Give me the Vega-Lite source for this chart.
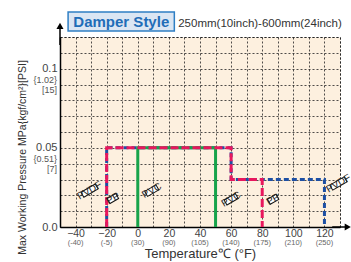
{
  "$schema": "https://vega.github.io/schema/vega-lite/v6.json",
  "width": 280,
  "height": 190,
  "autosize": "none",
  "padding": {"left": 60, "top": 37, "right": 11, "bottom": 35},
  "background": "white",
  "config": {
    "view": {"fill": "#fdf0df", "stroke": "#333", "strokeDash": [2, 2], "strokeWidth": 1},
    "font": "Liberation Sans",
    "axis": {"grid": true, "gridColor": "#222", "gridDash": [2, 2], "gridWidth": 0.8, "ticks": false, "domainColor": "#000", "domainWidth": 1.5, "labelColor": "#444", "labelFontSize": 11, "titleFontWeight": "normal", "titleColor": "#333", "tickCount": 100, "labelOverlap": false}
  },
  "datasets": {
    "lines": [
      {"series": "PVDF", "i": 1, "t": -20, "p": 0},
      {"series": "PVDF", "i": 2, "t": -20, "p": 0.05},
      {"series": "PVDF", "i": 3, "t": 60, "p": 0.05},
      {"series": "PVDF", "i": 4, "t": 60, "p": 0.03},
      {"series": "PVDF", "i": 5, "t": 120, "p": 0.03},
      {"series": "PVDF", "i": 6, "t": 120, "p": 0},
      {"series": "PVC", "i": 1, "t": 0, "p": 0},
      {"series": "PVC", "i": 2, "t": 0, "p": 0.05},
      {"series": "PVC", "i": 3, "t": 50, "p": 0.05},
      {"series": "PVC", "i": 4, "t": 50, "p": 0},
      {"series": "PP", "i": 1, "t": -20, "p": 0},
      {"series": "PP", "i": 2, "t": -20, "p": 0.05},
      {"series": "PP", "i": 3, "t": 60, "p": 0.05},
      {"series": "PP", "i": 4, "t": 60, "p": 0.03},
      {"series": "PP", "i": 5, "t": 80, "p": 0.03},
      {"series": "PP", "i": 6, "t": 80, "p": 0}
    ],
    "tags": [
      {"label": "PVDF", "t": -31, "p": 0.023},
      {"label": "PP", "t": -16, "p": 0.018},
      {"label": "PVC", "t": 9, "p": 0.023},
      {"label": "PVC", "t": 60, "p": 0.0175},
      {"label": "PP", "t": 87, "p": 0.0175},
      {"label": "PVDF", "t": 129, "p": 0.0275}
    ],
    "xsub": [
      {"t": -40, "f": "(-40)"}, {"t": -20, "f": "(-5)"}, {"t": 0, "f": "(30)"},
      {"t": 20, "f": "(90)"}, {"t": 40, "f": "(105)"}, {"t": 60, "f": "(140)"},
      {"t": 80, "f": "(175)"}, {"t": 100, "f": "(210)"}, {"t": 120, "f": "(250)"}
    ],
    "ysub": [
      {"p": 0.05, "f": ["{0.51}", "[7]"]},
      {"p": 0.1, "f": ["{1.02}", "[15]"]}
    ]
  },
  "layer": [
    {
      "data": {"name": "lines"},
      "transform": [{"filter": "datum.series === 'PVDF'"}],
      "mark": {"type": "line", "color": "#1d4fa3", "strokeWidth": 3, "strokeDash": [5, 3]},
      "encoding": {
        "x": {"field": "t", "type": "quantitative", "scale": {"domain": [-50, 130], "nice": false},
          "axis": {"title": "Temperature℃ (°F)", "values": [-50, -40, -30, -20, -10, 0, 10, 20, 30, 40, 50, 60, 70, 80, 90, 100, 110, 120, 130],
            "labelExpr": "datum.value % 20 == 0 && datum.value >= -40 && datum.value <= 120 ? datum.label : ''",
            "labelPadding": 1, "labelFontSize": 10.5, "titleFontSize": 13, "titlePadding": 9}},
        "y": {"field": "p", "type": "quantitative", "scale": {"domain": [0, 0.12], "nice": false, "zero": false},
          "axis": {"title": "Max Working Pressure MPa{kgf/cm²}[PSI]", "values": [0, 0.01, 0.02, 0.03, 0.04, 0.05, 0.06, 0.07, 0.08, 0.09, 0.1, 0.11, 0.12],
            "labelExpr": "abs(datum.value) < 1e-9 ? '0.0' : abs(datum.value - 0.05) < 1e-9 ? '0.05' : abs(datum.value - 0.1) < 1e-9 ? '0.1' : ''",
            "labelPadding": 3, "titleFontSize": 10.5, "titlePadding": 8, "titleY": 120}},
        "order": {"field": "i", "type": "quantitative"}
      }
    },
    {
      "data": {"name": "lines"},
      "transform": [{"filter": "datum.series === 'PVC'"}],
      "mark": {"type": "line", "color": "#17a34a", "strokeWidth": 3},
      "encoding": {
        "x": {"field": "t", "type": "quantitative", "scale": {"domain": [-50, 130], "nice": false}},
        "y": {"field": "p", "type": "quantitative", "scale": {"domain": [0, 0.12], "nice": false, "zero": false}},
        "order": {"field": "i", "type": "quantitative"}
      }
    },
    {
      "data": {"name": "lines"},
      "transform": [{"filter": "datum.series === 'PP'"}],
      "mark": {"type": "line", "color": "#e8175d", "strokeWidth": 3, "strokeDash": [8, 3]},
      "encoding": {
        "x": {"field": "t", "type": "quantitative", "scale": {"domain": [-50, 130], "nice": false}},
        "y": {"field": "p", "type": "quantitative", "scale": {"domain": [0, 0.12], "nice": false, "zero": false}},
        "order": {"field": "i", "type": "quantitative"}
      }
    },
    {
      "data": {"name": "tags"},
      "mark": {"type": "point", "filled": true, "fill": "white", "stroke": "#111", "strokeWidth": 1, "opacity": 1, "angle": -30, "size": 324},
      "encoding": {
        "x": {"field": "t", "type": "quantitative", "scale": {"domain": [-50, 130], "nice": false}},
        "y": {"field": "p", "type": "quantitative", "scale": {"domain": [0, 0.12], "nice": false, "zero": false}},
        "shape": {"field": "label", "type": "nominal", "legend": null,
          "scale": {"domain": ["PVDF", "PP", "PVC"], "range": ["M-0.92,-0.32L0.92,-0.32L0.92,0.32L-0.92,0.32Z", "M-0.55,-0.32L0.55,-0.32L0.55,0.32L-0.55,0.32Z", "M-0.72,-0.32L0.72,-0.32L0.72,0.32L-0.72,0.32Z"]}}
      }
    },
    {
      "data": {"name": "tags"},
      "mark": {"type": "text", "angle": -30, "fontSize": 10, "color": "#222", "align": "center", "baseline": "middle"},
      "encoding": {
        "x": {"field": "t", "type": "quantitative", "scale": {"domain": [-50, 130], "nice": false}},
        "y": {"field": "p", "type": "quantitative", "scale": {"domain": [0, 0.12], "nice": false, "zero": false}},
        "text": {"field": "label"}
      }
    },
    {
      "data": {"name": "xsub"},
      "mark": {"type": "text", "fontSize": 7.5, "color": "#666", "align": "center", "baseline": "middle", "dy": 16},
      "encoding": {
        "x": {"field": "t", "type": "quantitative", "scale": {"domain": [-50, 130], "nice": false}},
        "y": {"datum": 0, "type": "quantitative", "scale": {"domain": [0, 0.12], "nice": false, "zero": false}},
        "text": {"field": "f"}
      }
    },
    {
      "data": {"name": "ysub"},
      "mark": {"type": "text", "fontSize": 9, "color": "#555", "align": "right", "baseline": "middle", "dx": -3, "dy": 11, "lineHeight": 10},
      "encoding": {
        "x": {"datum": -50, "type": "quantitative", "scale": {"domain": [-50, 130], "nice": false}},
        "y": {"field": "p", "type": "quantitative", "scale": {"domain": [0, 0.12], "nice": false, "zero": false}},
        "text": {"field": "f"}
      }
    },
    {
      "data": {"values": [{"a": 1}]},
      "mark": {"type": "rule", "color": "#000", "strokeWidth": 1.5},
      "encoding": {
        "x": {"datum": -50, "type": "quantitative", "scale": {"domain": [-50, 130], "nice": false}},
        "y": {"datum": 0.115, "type": "quantitative", "scale": {"domain": [0, 0.12], "nice": false, "zero": false}},
        "y2": {"datum": 0.126}
      }
    },
    {
      "data": {"values": [{"a": 1}]},
      "mark": {"type": "point", "shape": "triangle-up", "filled": true, "color": "#000", "opacity": 1, "size": 50},
      "encoding": {
        "x": {"datum": -50, "type": "quantitative", "scale": {"domain": [-50, 130], "nice": false}},
        "y": {"datum": 0.127, "type": "quantitative", "scale": {"domain": [0, 0.12], "nice": false, "zero": false}}
      }
    },
    {
      "data": {"values": [{"a": 1}]},
      "mark": {"type": "rule", "color": "#000", "strokeWidth": 1.5},
      "encoding": {
        "x": {"datum": 125, "type": "quantitative", "scale": {"domain": [-50, 130], "nice": false}},
        "x2": {"datum": 134},
        "y": {"datum": 0, "type": "quantitative", "scale": {"domain": [0, 0.12], "nice": false, "zero": false}}
      }
    },
    {
      "data": {"values": [{"a": 1}]},
      "mark": {"type": "point", "shape": "triangle-right", "filled": true, "color": "#000", "opacity": 1, "size": 50},
      "encoding": {
        "x": {"datum": 135, "type": "quantitative", "scale": {"domain": [-50, 130], "nice": false}},
        "y": {"datum": 0, "type": "quantitative", "scale": {"domain": [0, 0.12], "nice": false, "zero": false}}
      }
    },
    {
      "data": {"values": [{"a": 1}]},
      "mark": {"type": "rect", "fill": "#dbe6f3", "stroke": "#2f7fc4", "strokeWidth": 1.5},
      "encoding": {
        "x": {"datum": -44.8, "type": "quantitative", "scale": {"domain": [-50, 130], "nice": false}},
        "x2": {"datum": 23.5},
        "y": {"datum": 0.1358, "type": "quantitative", "scale": {"domain": [0, 0.12], "nice": false, "zero": false}},
        "y2": {"datum": 0.1238}
      }
    },
    {
      "data": {"values": [{"s": "Damper Style"}]},
      "mark": {"type": "text", "fontSize": 15, "fontWeight": "bold", "color": "#1f6db8", "align": "center", "baseline": "middle"},
      "encoding": {
        "x": {"datum": -10.6, "type": "quantitative", "scale": {"domain": [-50, 130], "nice": false}},
        "y": {"datum": 0.1297, "type": "quantitative", "scale": {"domain": [0, 0.12], "nice": false, "zero": false}},
        "text": {"field": "s"}
      }
    },
    {
      "data": {"values": [{"s": "250mm(10inch)-600mm(24inch)"}]},
      "mark": {"type": "text", "fontSize": 11.5, "color": "#333", "align": "left", "baseline": "middle"},
      "encoding": {
        "x": {"datum": 26, "type": "quantitative", "scale": {"domain": [-50, 130], "nice": false}},
        "y": {"datum": 0.128, "type": "quantitative", "scale": {"domain": [0, 0.12], "nice": false, "zero": false}},
        "text": {"field": "s"}
      }
    }
  ]
}
